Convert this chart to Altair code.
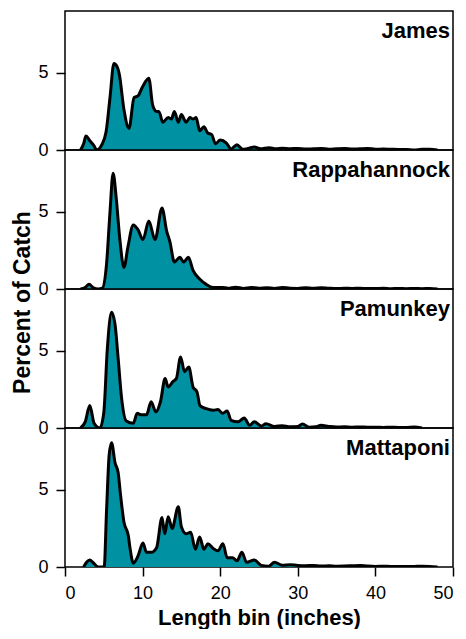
import altair as alt
import pandas as pd

FONT = "Liberation Sans"
TEAL = "#0091a3"

rivers = ["James", "Rappahannock", "Pamunkey", "Mattaponi"]

james_x = [2.0, 2.4, 2.7, 3.2, 3.7, 4.1, 4.7, 5.3, 5.8, 6.3, 6.6, 7.0, 7.6, 8.25, 8.9, 9.4, 10.0, 10.8,
           11.3, 11.8, 12.1, 12.6, 13.3, 13.7, 14.1, 14.6, 15.0, 15.6, 16.1, 16.5, 16.9, 17.35, 17.9,
           18.4, 18.9, 19.4, 20.0, 20.8, 21.4, 22.15, 22.9, 23.6, 24.4, 25.2, 26.3, 27.2, 28.0, 29.0,
           30.0, 31.0, 32.0, 33.0, 34.0, 35.0, 36.0, 37.0, 38.0, 39.0, 40.0, 41.0, 42.0, 43.0, 44.0,
           45.0, 46.0, 47.0, 48.0]
james_y = [0.0, 0.4, 0.9, 0.6, 0.3, 0.0, 0.3, 1.2, 3.4, 5.6, 5.5, 4.9, 2.6, 1.4, 3.4, 3.5, 4.1, 4.65,
           2.9, 2.5, 2.5, 1.8, 2.1, 2.0, 2.5, 1.8, 2.3, 1.8, 2.1, 2.0, 2.1, 1.25, 1.5,
           1.1, 1.0, 0.4, 0.65, 0.45, 0.07, 0.34, 0.05, 0.1, 0.2, 0.08, 0.15, 0.08, 0.12, 0.08,
           0.1, 0.06, 0.08, 0.1, 0.05, 0.08, 0.1, 0.06, 0.08, 0.1, 0.05, 0.06, 0.05, 0.04, 0.04,
           0.0, 0.05, 0.05, 0.0]

rappahannock_x = [2.0, 2.6, 3.1, 3.6, 4.3, 4.8, 5.35, 5.8, 6.2, 6.6, 7.05, 7.6, 8.1, 8.8, 9.4, 10.05,
                  10.8, 11.6, 12.5, 13.1, 13.5, 14.1, 14.8, 15.3, 15.9, 16.5, 17.35, 18.2, 19.1, 20.3,
                  21.0, 22.0, 23.0, 24.0, 25.0, 26.0, 27.0, 28.0, 29.0, 30.0, 31.0, 32.0, 33.0, 34.0,
                  35.0, 36.0, 37.0, 38.0, 39.0, 40.0, 41.0, 42.0, 43.0, 44.0, 45.0, 46.0, 47.0, 48.0]
rappahannock_y = [0.0, 0.1, 0.3, 0.1, 0.0, 0.05, 1.6, 5.0, 7.5, 5.9, 3.3, 1.4, 2.7, 4.15, 3.85, 3.2,
                  4.4, 3.2, 5.25, 3.75, 3.1, 1.75, 2.05, 1.75, 2.05, 1.2, 0.65, 0.3, 0.1, 0.1,
                  0.05, 0.12, 0.04, 0.1, 0.05, 0.08, 0.04, 0.1, 0.05, 0.04, 0.08, 0.05, 0.08, 0.05,
                  0.03, 0.05, 0.04, 0.05, 0.03, 0.03, 0.05, 0.02, 0.03, 0.02, 0.04, 0.02, 0.04, 0.0]

pamunkey_x = [2.0, 2.6, 3.2, 3.75, 4.5, 5.0, 5.45, 6.0, 6.45, 6.85, 7.3, 7.9, 8.8, 9.3, 9.85, 10.5,
              11.1, 11.7, 12.3, 12.9, 13.3, 13.9, 14.35, 14.9, 15.4, 15.95, 16.5, 17.0, 17.4, 18.2,
              19.1, 19.7, 20.3, 20.9, 21.4, 22.3, 23.1, 23.8, 24.4, 25.3, 25.9, 27.0, 28.0, 29.0,
              30.0, 30.6, 31.5, 32.3, 33.0, 34.0, 35.0, 36.0, 37.0, 38.0, 39.0, 40.0, 41.0, 42.0,
              43.0, 44.0, 45.0, 46.0]
pamunkey_y = [0.0, 0.4, 1.45, 0.3, 0.0, 1.0, 5.1, 7.5, 6.7, 4.5, 1.9, 0.45, 0.3, 0.95, 0.85, 0.85,
              1.7, 1.05, 1.7, 3.2, 2.65, 3.0, 3.2, 4.6, 3.65, 3.95, 2.65, 2.35, 1.45, 1.25,
              1.15, 1.2, 0.95, 1.1, 0.5, 0.4, 0.65, 0.17, 0.4, 0.13, 0.28, 0.1, 0.15, 0.08,
              0.1, 0.26, 0.05, 0.08, 0.17, 0.1, 0.06, 0.08, 0.05, 0.07, 0.05, 0.05, 0.04, 0.05,
              0.04, 0.04, 0.06, 0.0]

mattaponi_x = [2.4, 2.8, 3.2, 3.6, 4.3, 5.05, 5.35, 5.7, 6.0, 6.45, 6.85, 7.15, 7.6, 8.15, 8.4, 8.8,
               9.4, 10.05, 10.5, 11.1, 11.8, 12.5, 12.85, 13.3, 13.8, 14.6, 15.0, 15.6, 16.2, 16.8,
               17.35, 17.9, 18.4, 19.1, 19.7, 20.35, 20.9, 21.6, 22.15, 22.8, 23.4, 24.4, 25.3, 26.2,
               27.0, 28.0, 29.0, 30.0, 31.0, 32.0, 33.0, 34.0, 35.0, 36.0, 37.0, 38.0, 39.0, 40.0,
               41.0, 42.0, 43.0, 44.0, 45.0, 46.0, 47.0, 48.0]
mattaponi_y = [0.0, 0.33, 0.46, 0.29, 0.0, 0.0, 3.6, 7.3, 8.05, 6.75, 6.1, 4.7, 2.9, 2.05, 1.15, 0.25,
               0.7, 1.55, 0.95, 0.95, 1.25, 3.2, 2.15, 3.25, 2.5, 3.9, 2.6, 2.15, 2.25, 1.15,
               1.95, 1.15, 1.5, 1.2, 1.05, 1.5, 0.6, 0.6, 0.4, 0.95, 0.3, 0.45, 0.1, 0.05,
               0.3, 0.12, 0.15, 0.1, 0.08, 0.1, 0.06, 0.08, 0.05, 0.06, 0.08, 0.1, 0.06, 0.04,
               0.05, 0.04, 0.04, 0.03, 0.04, 0.05, 0.04, 0.0]

x_ticks = [0, 10, 20, 30, 40, 50]
y_ticks = [0, 5]
x_title = "Length bin (inches)"
y_title = "Percent of Catch"

series = [(james_x, james_y), (rappahannock_x, rappahannock_y),
          (pamunkey_x, pamunkey_y), (mattaponi_x, mattaponi_y)]

W = 388
H = 139


def panel(i):
    name = rivers[i]
    xs, ys = series[i]
    df = pd.DataFrame({"length": xs, "pct": ys})
    bottom = i == len(rivers) - 1
    if bottom:
        x_enc = alt.X("length:Q", scale=alt.Scale(domain=[0, 50], nice=False),
                      axis=alt.Axis(values=x_ticks, title=x_title, format="d",
                                    tickSize=9, labelPadding=8, titlePadding=5,
                                    titleFontSize=22))
    else:
        x_enc = alt.X("length:Q", scale=alt.Scale(domain=[0, 50], nice=False), axis=None)
    if i == 1:
        y_axis = alt.Axis(values=y_ticks, title=y_title, titleY=152, titlePadding=3,
                          titleFontSize=23)
    else:
        y_axis = alt.Axis(values=y_ticks, title=None)
    area = alt.Chart(df).mark_area(
        color=TEAL, opacity=1, interpolate="monotone", clip=True,
        line={"color": "black", "strokeWidth": 3},
    ).encode(
        x=x_enc,
        y=alt.Y("pct:Q", scale=alt.Scale(domain=[0, 9], nice=False), axis=y_axis),
    )
    label = alt.Chart(pd.DataFrame({"river": [name]})).mark_text(
        align="right", baseline="alphabetic", font=FONT, fontSize=22,
        fontWeight="bold", color="black",
    ).encode(x=alt.value(W - 3), y=alt.value(27), text="river:N")
    return alt.layer(area, label).properties(width=W, height=H)


chart = alt.vconcat(*[panel(i) for i in range(4)], spacing=0, bounds="flush").properties(
    padding={"left": 3, "top": 2, "right": 0, "bottom": 0}
).configure_view(
    stroke="black", strokeWidth=1.5
).configure_axis(
    domain=False, tickColor="black", tickWidth=1.5, tickSize=9,
    labelFont=FONT, labelFontSize=18, labelColor="black", labelPadding=8,
    titleFont=FONT, titleFontSize=22, titleFontWeight="bold", titleColor="black",
    grid=False,
)

chart.save("out.html", embed_options={"renderer": "svg", "actions": False})
